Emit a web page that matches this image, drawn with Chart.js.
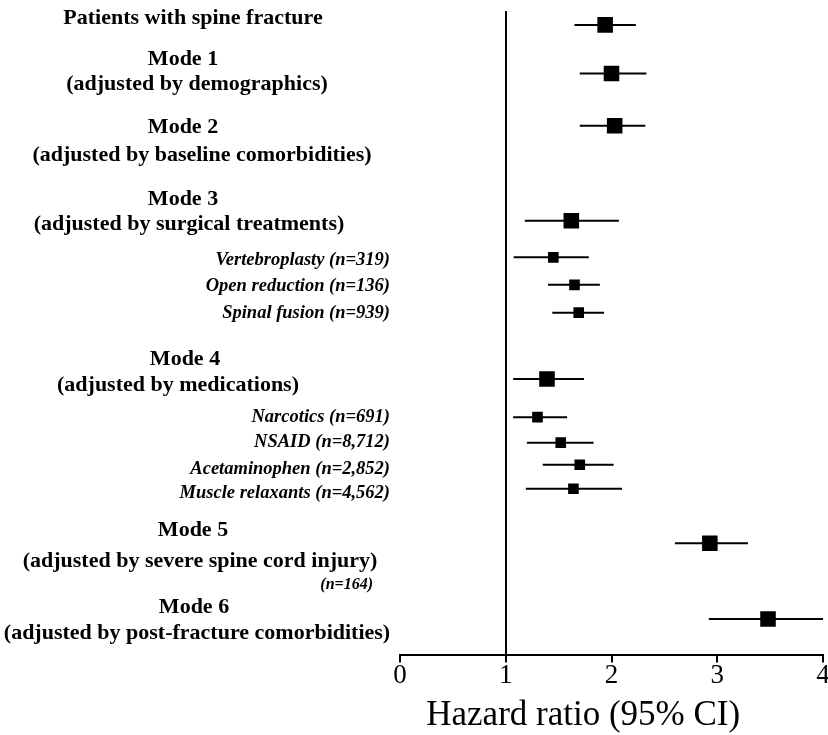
<!DOCTYPE html>
<html lang="en">
<head>
    <meta charset="UTF-8">
    <title>Hazard ratio forest plot</title>
    <script src="https://cdn.jsdelivr.net/npm/chart.js"></script>
    <style>
        html, body { margin: 0; padding: 0; background: #fff; overflow: hidden; }
        /* a little wider than the window so the last tick label runs off the edge, like the original */
        #wrap { width: 834px; height: 735px; }
    </style>
</head>
<body>
    <div id="wrap"><canvas id="forestChart"></canvas></div>

    <script>
        // Data
        const rowLabels = ['Patients with spine fracture', 'Mode 1', 'Mode 2', 'Mode 3',
            'Vertebroplasty (n=319)', 'Open reduction (n=136)', 'Spinal fusion (n=939)',
            'Mode 4', 'Narcotics (n=691)', 'NSAID (n=8,712)', 'Acetaminophen (n=2,852)',
            'Muscle relaxants (n=4,562)', 'Mode 5', 'Mode 6'];
        const hazardRatio = [1.94, 2.00, 2.03, 1.62, 1.45, 1.65, 1.69, 1.39, 1.30, 1.52, 1.70, 1.64, 2.93, 3.48];
        const ciLower = [1.65, 1.70, 1.70, 1.18, 1.075, 1.40, 1.44, 1.07, 1.07, 1.20, 1.35, 1.19, 2.60, 2.92];
        const ciUpper = [2.23, 2.33, 2.32, 2.07, 1.785, 1.89, 1.93, 1.74, 1.58, 1.83, 2.02, 2.10, 3.29, 4.00];
        const isSubgroup = [false, false, false, false, true, true, true, false, true, true, true, true, false, false];
        const xTicks = [0, 1, 2, 3, 4];

        // Layout: vertical slot of each row (hidden y scale, 0 at top)
        const rowSlot = [0.54, 2.43, 4.46, 8.15, 9.57, 10.64, 11.72, 14.30, 15.78, 16.77, 17.63, 18.56, 20.68, 23.62];

        // Text lines on the left: [text, slot, kind, x]
        // 'head' = bold, centred on x; 'sub' = bold italic, right edge at x
        const textLines = [
            ['Patients with spine fracture', 0.30, 'head', 193],
            ['Mode 1', 1.89, 'head', 183],
            ['(adjusted by demographics)', 2.86, 'head', 197],
            ['Mode 2', 4.52, 'head', 183],
            ['(adjusted by baseline comorbidities)', 5.60, 'head', 202],
            ['Mode 3', 7.30, 'head', 183],
            ['(adjusted by surgical treatments)', 8.27, 'head', 189],
            [rowLabels[4], 9.70, 'sub', 390],
            [rowLabels[5], 10.70, 'sub', 390],
            [rowLabels[6], 11.73, 'sub', 390],
            ['Mode 4', 13.54, 'head', 185],
            ['(adjusted by medications)', 14.54, 'head', 178],
            [rowLabels[8], 15.79, 'sub', 390],
            [rowLabels[9], 16.76, 'sub', 390],
            [rowLabels[10], 17.79, 'sub', 390],
            [rowLabels[11], 18.75, 'sub', 390],
            ['Mode 5', 20.17, 'head', 193],
            ['(adjusted by severe spine cord injury)', 21.37, 'head', 200],
            ['(n=164)', 22.30, 'note', 373],
            ['Mode 6', 23.16, 'head', 194],
            ['(adjusted by post-fracture comorbidities)', 24.19, 'head', 197]
        ];

        const ciDatasets = rowLabels.map((name, i) => ({
            label: name + ' CI',
            data: [{ x: ciLower[i], y: rowSlot[i] }, { x: ciUpper[i], y: rowSlot[i] }],
            showLine: true,
            borderColor: '#000',
            borderWidth: 2,
            pointRadius: 0
        }));

        const pointDataset = {
            label: 'Hazard ratio',
            data: hazardRatio.map((v, i) => ({ x: v, y: rowSlot[i] })),
            pointStyle: 'rect',
            pointRadius: hazardRatio.map((v, i) => isSubgroup[i] ? 7.5 : 11),
            backgroundColor: '#000',
            borderColor: '#000',
            borderWidth: 0
        };

        // draws the left-hand labels next to their rows
        const rowTextPlugin = {
            id: 'rowText',
            afterDraw(chart) {
                const ctx = chart.ctx;
                const y = chart.scales.y;
                ctx.save();
                ctx.fillStyle = '#000';
                ctx.textBaseline = 'middle';
                textLines.forEach(([text, slot, kind, x]) => {
                    const py = y.getPixelForValue(slot);
                    if (kind === 'head') {
                        ctx.font = 'bold 22px "Liberation Serif"';
                        ctx.textAlign = 'center';
                    } else if (kind === 'sub') {
                        ctx.font = 'italic bold 18.5px "Liberation Serif"';
                        ctx.textAlign = 'right';
                    } else {
                        ctx.font = 'italic bold 16px "Liberation Serif"';
                        ctx.textAlign = 'right';
                    }
                    ctx.fillText(text, x, py);
                });
                ctx.restore();
            }
        };

        new Chart(document.getElementById('forestChart'), {
            type: 'scatter',
            data: { datasets: [...ciDatasets, pointDataset] },
            options: {
                responsive: true,
                maintainAspectRatio: false,
                animation: false,
                layout: { padding: { left: 400, right: 5, top: 6, bottom: 0 } },
                plugins: { legend: { display: false }, tooltip: { enabled: false } },
                scales: {
                    x: {
                        type: 'linear',
                        min: 0,
                        max: 4,
                        afterBuildTicks: axis => { axis.ticks = xTicks.map(v => ({ value: v })); },
                        grid: {
                            color: c => (c.tick && c.tick.value === 1) ? '#000' : 'rgba(0,0,0,0)',
                            lineWidth: 2,
                            tickColor: '#000',
                            tickWidth: 2,
                            tickLength: 8
                        },
                        border: { display: true, color: '#000', width: 2 },
                        ticks: {
                            color: '#000',
                            padding: 0,
                            font: { family: 'Liberation Serif', size: 27, lineHeight: 1.0 }
                        },
                        title: {
                            display: true,
                            align: 'start',
                            text: '   Hazard ratio (95% CI)',
                            color: '#000',
                            font: { family: 'Liberation Serif', size: 35, lineHeight: 1.1 },
                            padding: { top: 7, bottom: 0 }
                        }
                    },
                    y: {
                        type: 'linear',
                        display: false,
                        reverse: true,
                        min: 0,
                        max: 25
                    }
                }
            },
            plugins: [rowTextPlugin]
        });
    </script>
</body>
</html>
